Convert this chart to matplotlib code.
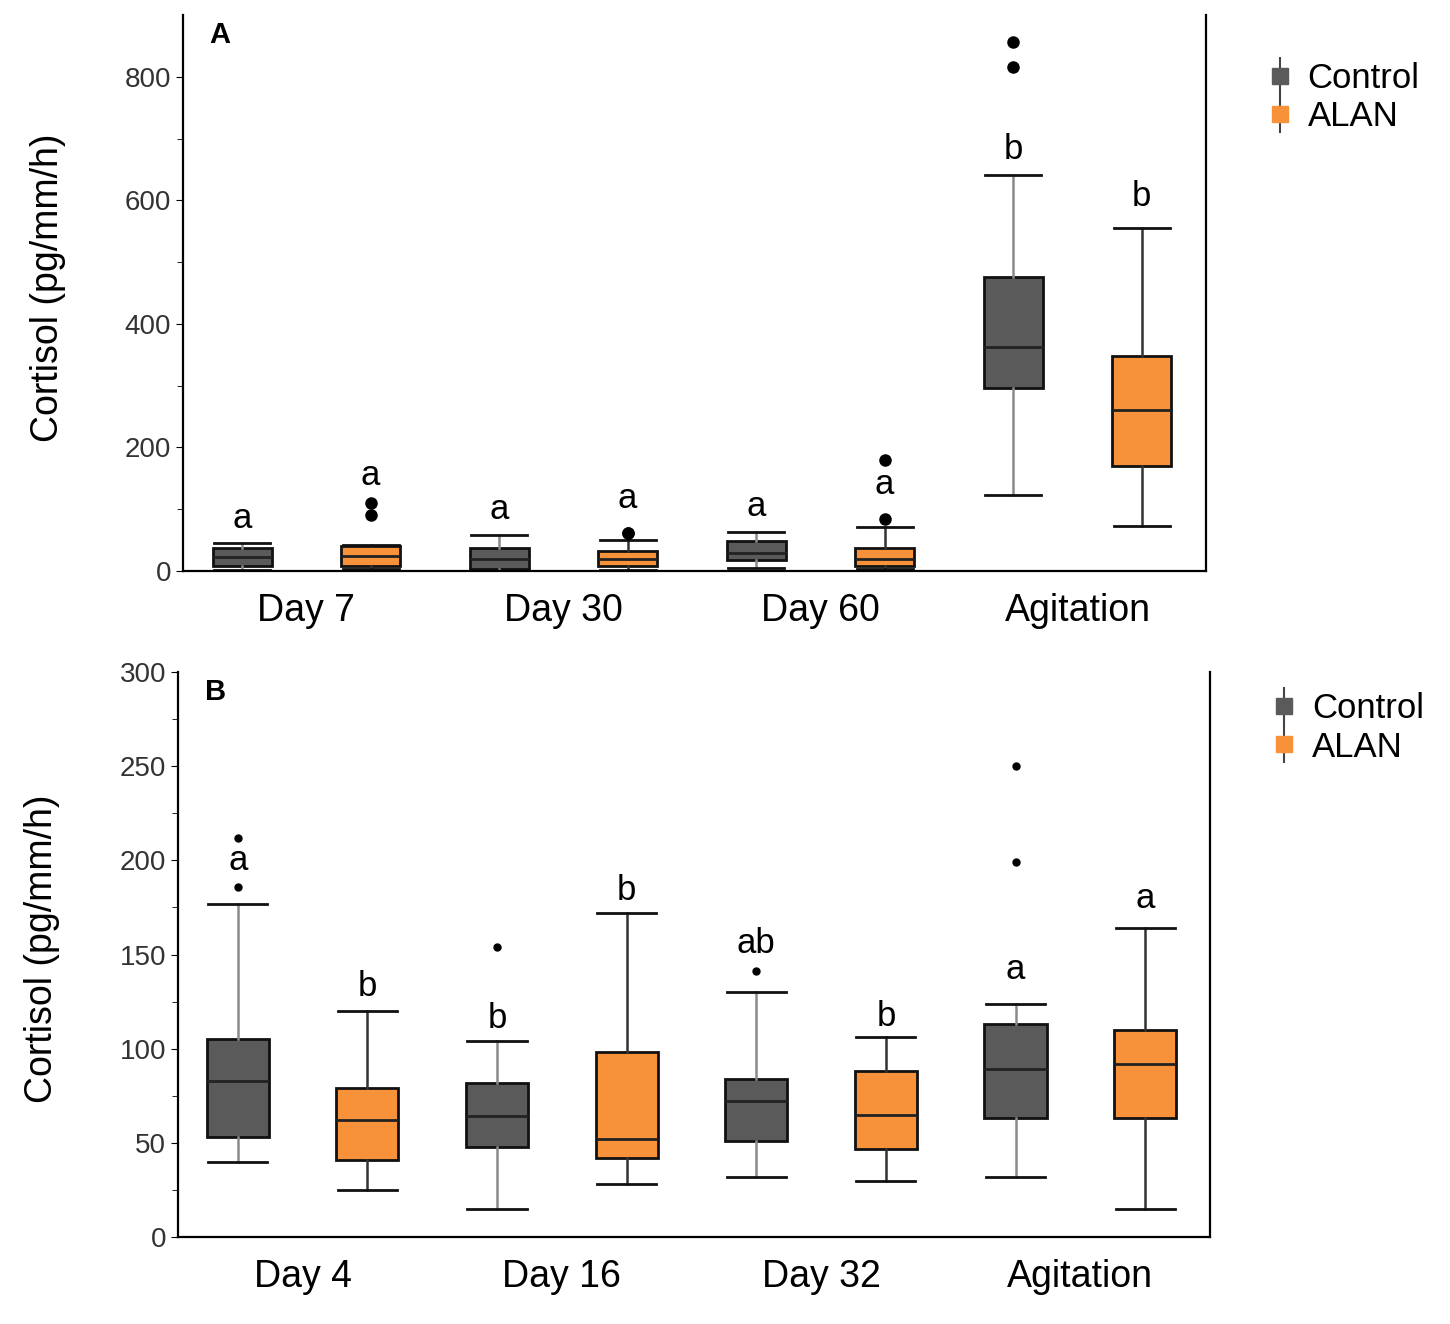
import matplotlib.pyplot as plt
from matplotlib.lines import Line2D

plt.rcParams['font.family'] = ['Liberation Sans', 'DejaVu Sans']

# ---- data ----
groups_a = ["Day 7", "Day 30", "Day 60", "Agitation"]
# whislo, q1, med, q3, whishi
ctrl_a = [(2, 8, 22, 38, 46), (0, 3, 20, 38, 58), (5, 18, 30, 48, 63), (123, 296, 362, 476, 641)]
alan_a = [(3, 8, 25, 40, 42), (2, 8, 20, 32, 50), (3, 8, 20, 38, 72), (73, 170, 261, 348, 556)]
ctrl_a_fliers = [[], [], [], [816, 857]]
alan_a_fliers = [[90, 110], [62, 62], [85, 180], []]
ctrl_a_letters = ["a", "a", "a", "b"]
alan_a_letters = ["a", "a", "a", "b"]
ctrl_a_letter_y = [85, 100, 105, 682]
alan_a_letter_y = [155, 118, 140, 606]

groups_b = ["Day 4", "Day 16", "Day 32", "Agitation"]
ctrl_b = [(40, 53, 83, 105, 177), (15, 48, 64, 82, 104), (32, 51, 72, 84, 130), (32, 63, 89, 113, 124)]
alan_b = [(25, 41, 62, 79, 120), (28, 42, 52, 98, 172), (30, 47, 65, 88, 106), (15, 63, 92, 110, 164)]
ctrl_b_fliers = [[186, 212], [154], [141], [199, 250]]
alan_b_fliers = [[], [], [], []]
ctrl_b_letters = ["a", "b", "ab", "a"]
alan_b_letters = ["b", "b", "b", "a"]
ctrl_b_letter_y = [200, 116, 156, 142]
alan_b_letter_y = [133, 184, 117, 180]

CTRL = "#5a5a5a"
ALAN = "#f7923a"


def stats(vals, fl):
    lo, q1, med, q3, hi = vals
    return dict(whislo=lo, q1=q1, med=med, q3=q3, whishi=hi, fliers=fl)


def panel(ax, groups, ctrl, alan, cf, af, cl, al, cly, aly, ylim, major, minor, lab, msize, width, leg_y):
    n = len(groups)
    pc = [i - 0.25 for i in range(n)]
    pa = [i + 0.25 for i in range(n)]
    for pos, data, fls, col, wcol in [(pc, ctrl, cf, CTRL, "#8a8a8a"), (pa, alan, af, ALAN, "#333333")]:
        ax.bxp([stats(d, f) for d, f in zip(data, fls)], positions=pos, widths=width,
               patch_artist=True, showfliers=True,
               boxprops=dict(facecolor=col, edgecolor="#111111", linewidth=2),
               medianprops=dict(color="#222222", linewidth=2),
               whiskerprops=dict(color=wcol, linewidth=1.8),
               capprops=dict(color="#111111", linewidth=2),
               capwidths=width * 0.95,
               flierprops=dict(marker="o", markerfacecolor="black", markeredgecolor="black",
                               markersize=msize))
    for i in range(n):
        ax.text(pc[i], cly[i], cl[i], ha="center", va="center", fontsize=25)
        ax.text(pa[i], aly[i], al[i], ha="center", va="center", fontsize=25)
    ax.set_xticks(range(n))
    ax.set_xticklabels(groups, fontsize=27)
    ax.set_xlim(-0.48, n - 0.5)
    ax.set_ylim(*ylim)
    ax.set_yticks(major)
    ax.set_yticks(minor, minor=True)
    ax.tick_params(axis="y", labelsize=20, labelcolor="#333333", length=5, direction="out")
    ax.tick_params(axis="y", which="minor", length=4)
    ax.tick_params(axis="x", length=0, pad=16)
    ax.set_ylabel("Cortisol (pg/mm/h)", fontsize=27)
    ax.yaxis.set_label_coords(-0.114, 0.51)
    ax.spines["top"].set_visible(False)
    for s in ["left", "bottom", "right"]:
        ax.spines[s].set_linewidth(1.6)
    ax.text(0.026, 0.99, lab, transform=ax.transAxes, fontsize=21, fontweight="bold", va="top")
    handles = [(Line2D([], [], color="#444444", marker="|", markersize=28, linestyle="none", markeredgewidth=1.5),
                Line2D([], [], color=CTRL, marker="s", markersize=11, linestyle="none")),
               (Line2D([], [], color="#444444", marker="|", markersize=28, linestyle="none", markeredgewidth=1.5),
                Line2D([], [], color=ALAN, marker="s", markersize=11, linestyle="none"))]
    ax.legend(handles, ["Control", "ALAN"], loc="center left", bbox_to_anchor=(1.062, leg_y), frameon=False,
              fontsize=25, handlelength=0.6, handletextpad=0.5, labelspacing=0.15, borderaxespad=0, borderpad=0)


fig = plt.figure(figsize=(14.5, 13.24), dpi=100)
ax1 = fig.add_axes([0.1262, 0.5687, 0.7055, 0.42])
ax2 = fig.add_axes([0.1228, 0.0657, 0.7117, 0.4267])

panel(ax1, groups_a, ctrl_a, alan_a, ctrl_a_fliers, alan_a_fliers, ctrl_a_letters, alan_a_letters,
      ctrl_a_letter_y, alan_a_letter_y, (0, 900), range(0, 801, 200), range(100, 900, 200), "A", 8, 0.23, 0.851)
panel(ax2, groups_b, ctrl_b, alan_b, ctrl_b_fliers, alan_b_fliers, ctrl_b_letters, alan_b_letters,
      ctrl_b_letter_y, alan_b_letter_y, (0, 300), range(0, 301, 50), range(25, 300, 50), "B", 5, 0.24, 0.901)

fig.savefig("out.png", dpi=100)
